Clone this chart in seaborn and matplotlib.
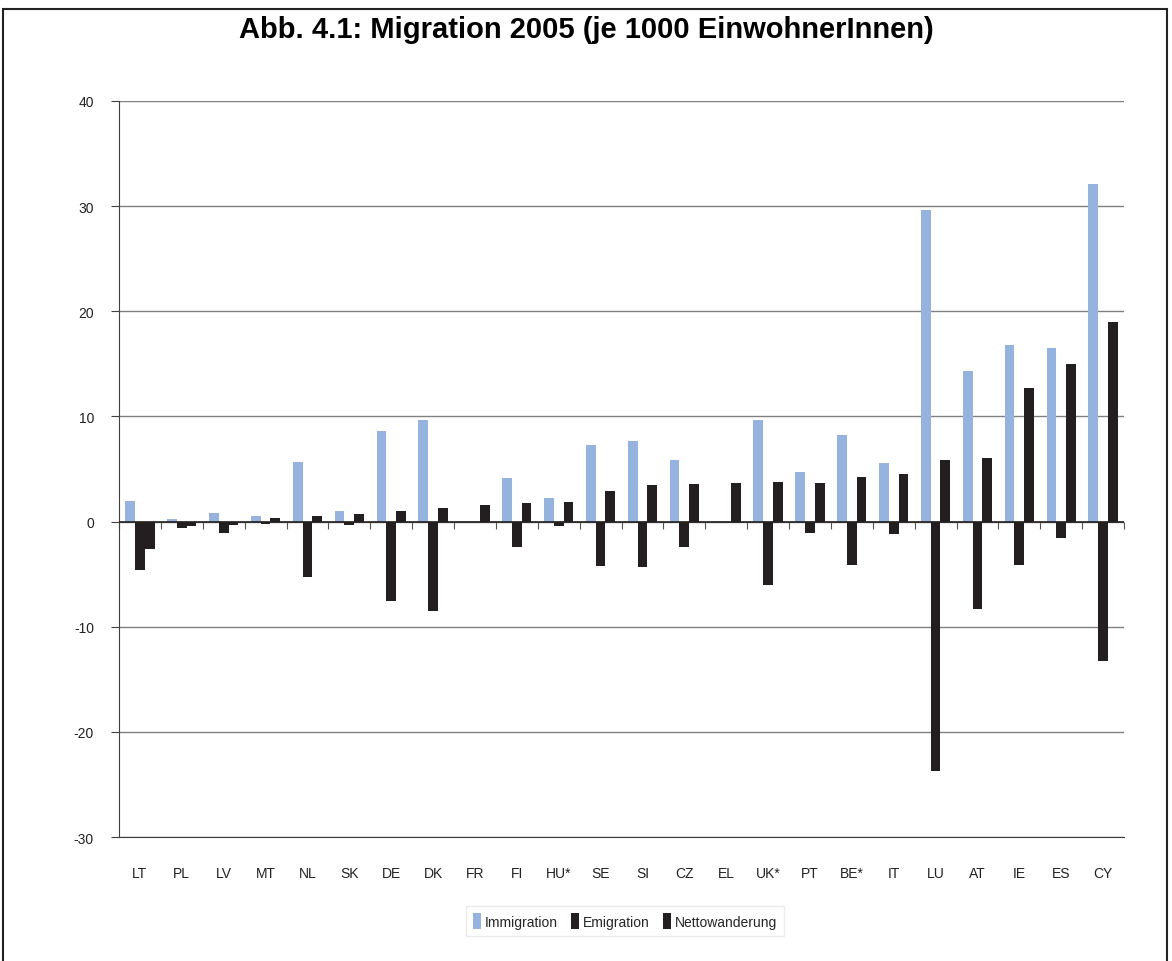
import matplotlib
matplotlib.use("Agg")
import matplotlib.pyplot as plt
import seaborn as sns
import pandas as pd
import numpy as np
from matplotlib.patches import Rectangle

# Werte je 1000 EinwohnerInnen
countries = ['LT', 'PL', 'LV', 'MT', 'NL', 'SK', 'DE', 'DK', 'FR', 'FI', 'HU*', 'SE',
             'SI', 'CZ', 'EL', 'UK*', 'PT', 'BE*', 'IT', 'LU', 'AT', 'IE', 'ES', 'CY']
immigration = [2.0, 0.2, 0.8, 0.5, 5.7, 1.0, 8.6, 9.7, np.nan, 4.1, 2.2, 7.25,
               7.7, 5.9, np.nan, 9.7, 4.7, 8.2, 5.6, 29.6, 14.3, 16.75, 16.55, 32.1]
emigration = [-4.6, -0.6, -1.1, -0.25, -5.3, -0.35, -7.6, -8.5, np.nan, -2.45, -0.45, -4.25,
              -4.35, -2.45, np.nan, -6.05, -1.05, -4.1, -1.15, -23.7, -8.35, -4.1, -1.6, -13.3]
netto = [-2.6, -0.4, -0.3, 0.3, 0.5, 0.7, 1.0, 1.3, 1.55, 1.75, 1.85, 2.95,
         3.45, 3.55, 3.65, 3.75, 3.7, 4.2, 4.5, 5.9, 6.0, 12.75, 15.0, 19.0]
series_names = ['Immigration', 'Emigration', 'Nettowanderung']
colors = ['#95B3DE', '#231F20', '#231F20']

df = pd.DataFrame({
    'land': countries * 3,
    'serie': np.repeat(series_names, len(countries)),
    'wert': immigration + emigration + netto,
})

sns.set_style('white')
plt.rcParams['font.family'] = ['Liberation Sans', 'DejaVu Sans']
plt.rcParams['axes.unicode_minus'] = False

fig = plt.figure(figsize=(11.72, 9.62), dpi=100)
ax = fig.add_axes([119 / 1172, 1 - 838 / 962, (1124 - 119) / 1172, (838 - 102) / 962])

sns.barplot(data=df, x='land', y='wert', hue='serie', hue_order=series_names,
            palette=colors, width=0.7, saturation=1, linewidth=0, errorbar=None,
            ax=ax, zorder=3)

ax.set_ylim(-30, 40)
ax.set_xlim(-0.5, len(countries) - 0.5)
ax.set_yticks(range(-30, 41, 10))
ax.yaxis.grid(True, color='#808080', linewidth=1.0, zorder=0)
ax.set_axisbelow(True)
ax.set_xlabel('')
ax.set_ylabel('')

for s in ['top', 'right']:
    ax.spines[s].set_visible(False)
ax.spines['left'].set_color('#404040')
ax.spines['bottom'].set_color('#404040')
ax.tick_params(axis='y', left=True, length=6, color='#404040', labelsize=10,
               labelcolor='#222222', pad=12)
ax.tick_params(axis='x', bottom=False, length=0, labelsize=10, labelcolor='#222222', pad=21)

# Nulllinie mit Teilstrichen zwischen den Kategorien
ax.axhline(0, color='#231F20', linewidth=1.2, zorder=4)
sec = ax.secondary_xaxis(0, transform=ax.transData)
sec.set_xticks(np.arange(-0.5, len(countries), 1))
sec.tick_params(axis='x', length=5, color='#555555', labelbottom=False, direction='out')
sec.spines['bottom'].set_visible(False)

ax.legend_.remove()
handles = [Rectangle((0, 0), 1, 1, facecolor=c, edgecolor='none') for c in colors]
fig.legend(handles, series_names, loc='center', bbox_to_anchor=(625 / 1172, 1 - 922 / 962),
           ncol=3, frameon=True, fancybox=False, edgecolor='#e6e6e6', fontsize=10,
           handlelength=0.6, handleheight=1.3, handletextpad=0.3, columnspacing=0.9,
           borderpad=0.5)

fig.suptitle('Abb. 4.1: Migration 2005 (je 1000 EinwohnerInnen)', fontsize=21,
             fontweight='bold', color='black', y=1 - 30 / 962, va='center')

# Rahmen um die Grafik
fig.add_artist(Rectangle((3 / 1172, -0.01), 1164 / 1172, 1 - 10 / 962 + 0.01,
                         transform=fig.transFigure, fill=False, edgecolor='#222222',
                         linewidth=1.5))

fig.savefig('out.png', dpi=100)
